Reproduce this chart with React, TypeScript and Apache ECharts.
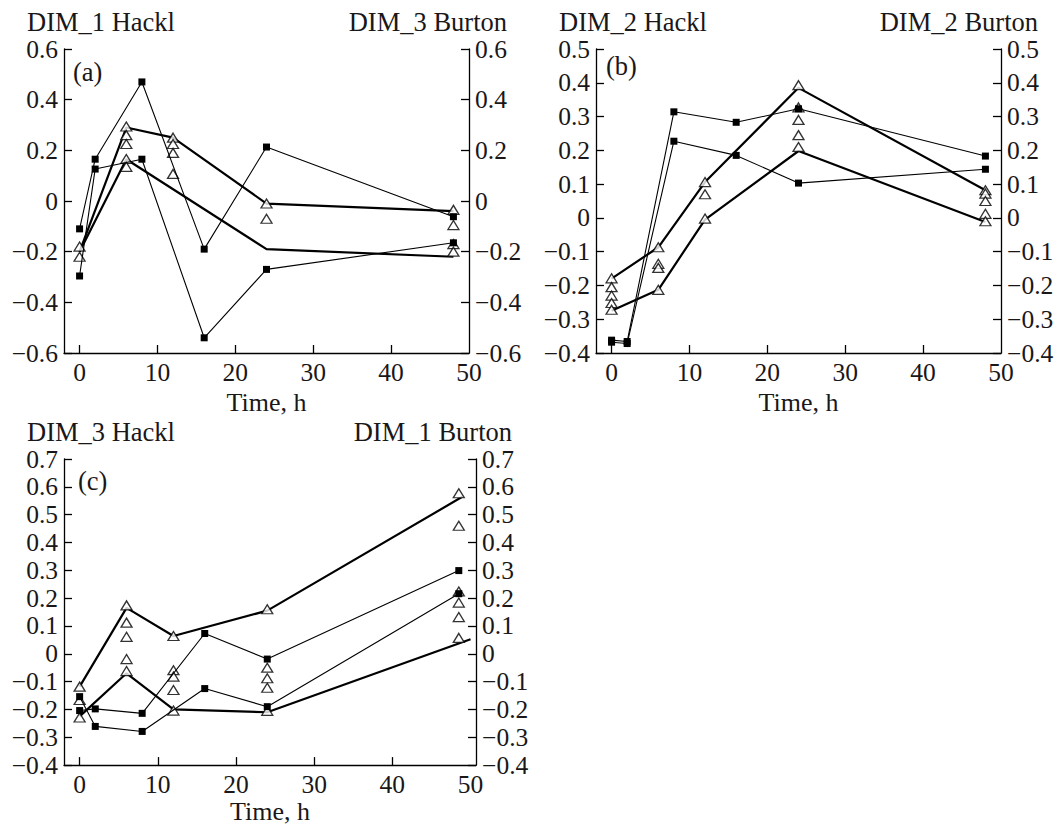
import React, { useEffect, useRef } from "react";
import * as echarts from "echarts";

// ---------- data ----------
// Panel (a): DIM_1 Hackl (squares) / DIM_3 Burton (triangles)
const aHacklA = [[0, -0.11], [2, 0.165], [8, 0.47], [16, -0.19], [24, 0.213], [48, -0.062]];
const aHacklB = [[0, -0.296], [2, 0.126], [8, 0.165], [16, -0.54], [24, -0.27], [48, -0.165]];
const aBurtonMeanA = [[0, -0.2], [6, 0.29], [12, 0.25], [24, -0.01], [48, -0.04]];
const aBurtonMeanB = [[0, -0.2], [6, 0.165], [24, -0.19], [48, -0.22]];
const aBurtonPts = [
  [0, -0.18], [0, -0.22],
  [6, 0.294], [6, 0.26], [6, 0.225], [6, 0.166], [6, 0.135],
  [12, 0.25], [12, 0.225], [12, 0.19], [12, 0.107],
  [24, -0.01], [24, -0.07],
  [48, -0.035], [48, -0.095], [48, -0.17], [48, -0.2],
];

// Panel (b): DIM_2 Hackl / DIM_2 Burton
const bHacklA = [[0, -0.362], [2, -0.366], [8, 0.314], [16, 0.283], [24, 0.323], [48, 0.183]];
const bHacklB = [[0, -0.368], [2, -0.372], [8, 0.227], [16, 0.185], [24, 0.103], [48, 0.144]];
const bBurtonMeanA = [[0, -0.18], [6, -0.087], [12, 0.106], [24, 0.385], [48, 0.082]];
const bBurtonMeanB = [[0, -0.275], [6, -0.213], [12, -0.005], [24, 0.198], [48, -0.012]];
const bBurtonPts = [
  [0, -0.179], [0, -0.205], [0, -0.23], [0, -0.252], [0, -0.272],
  [6, -0.087], [6, -0.136], [6, -0.148], [6, -0.213],
  [12, 0.106], [12, 0.07], [12, -0.002],
  [24, 0.393], [24, 0.327], [24, 0.29], [24, 0.245], [24, 0.21],
  [48, 0.082], [48, 0.072], [48, 0.05], [48, 0.012], [48, -0.01],
];

// Panel (c): DIM_3 Hackl / DIM_1 Burton
const cHacklA = [[0, -0.204], [2, -0.198], [8, -0.214], [16, 0.073], [24, -0.019], [48.5, 0.299]];
const cHacklB = [[0, -0.154], [2, -0.261], [8, -0.279], [16, -0.125], [24, -0.19], [48.5, 0.216]];
const cBurtonMeanA = [[0, -0.118], [6, 0.165], [12, 0.064], [24, 0.155], [49, 0.565]];
const cBurtonMeanB = [[0, -0.225], [6, -0.07], [12, -0.2], [24, -0.21], [50, 0.052]];
const cBurtonPts = [
  [0, -0.118], [0, -0.166], [0, -0.229],
  [6, 0.174], [6, 0.112], [6, 0.061], [6, -0.019], [6, -0.062],
  [12, 0.064], [12, -0.059], [12, -0.082], [12, -0.13], [12, -0.204],
  [24, 0.16], [24, -0.05], [24, -0.088], [24, -0.122], [24, -0.205],
  [48.5, 0.577], [48.5, 0.46], [48.5, 0.224], [48.5, 0.184], [48.5, 0.132], [48.5, 0.057],
];

const xTickValues = [0, 10, 20, 30, 40];
const xLabelValues = [0, 10, 20, 30, 40, 50];
const xName = "Time, h";
const titles = [
  { left: "DIM_1 Hackl", right: "DIM_3 Burton", tag: "(a)" },
  { left: "DIM_2 Hackl", right: "DIM_2 Burton", tag: "(b)" },
  { left: "DIM_3 Hackl", right: "DIM_1 Burton", tag: "(c)" },
];

// ---------- styling ----------
const FONT = "Liberation Serif";
const FS = 25.5;
const FS_TITLE = 26.5;
const TXT = "#1a1718";

const fmt = (v: number) => {
  const r = Math.round(v * 10) / 10;
  if (Math.abs(r) < 1e-9) return "0";
  return (r < 0 ? "\u2212" : "") + Math.abs(r).toFixed(1);
};

const axisLine = { show: true, onZero: false, lineStyle: { color: "#000", width: 1.3 } };
const tickStyle = { color: "#000", width: 1.3 };
const textStyle = { fontFamily: FONT, fontSize: FS, color: TXT };

function xAx(gridIndex: number, max: number, nameGap: number) {
  return {
    type: "value",
    gridIndex,
    min: -2,
    max,
    axisLine,
    axisTick: { show: true, inside: true, length: 8, customValues: xTickValues, lineStyle: tickStyle },
    axisLabel: { ...textStyle, margin: 6, customValues: xLabelValues },
    splitLine: { show: false },
    name: xName,
    nameLocation: "middle",
    nameGap,
    nameTextStyle: { ...textStyle, fontSize: 26 },
  };
}

function yAx(gridIndex: number, position: string, min: number, max: number, interval: number) {
  return {
    type: "value",
    gridIndex,
    position,
    min,
    max,
    interval,
    axisLine,
    axisTick: { show: true, inside: true, length: 8, lineStyle: tickStyle },
    axisLabel: { ...textStyle, margin: 6, formatter: fmt },
    splitLine: { show: false },
  };
}

function hacklLine(data: number[][], xi: number, yi: number) {
  return {
    type: "line",
    data,
    xAxisIndex: xi,
    yAxisIndex: yi,
    symbol: "rect",
    symbolSize: 7,
    showSymbol: true,
    lineStyle: { color: "#000", width: 1.1 },
    itemStyle: { color: "#000" },
    z: 5,
  };
}
function meanLine(data: number[][], xi: number, yi: number) {
  return {
    type: "line",
    data,
    xAxisIndex: xi,
    yAxisIndex: yi,
    symbol: "none",
    lineStyle: { color: "#000", width: 2.2 },
    z: 2,
  };
}
function triPts(data: number[][], xi: number, yi: number) {
  return {
    type: "scatter",
    data,
    xAxisIndex: xi,
    yAxisIndex: yi,
    symbol: "triangle",
    symbolSize: [11, 9],
    itemStyle: { color: "#fff", borderColor: "#000", borderWidth: 1.3 },
    z: 3,
  };
}

function txt(text: string, x: number, y: number, align: string) {
  return {
    type: "text",
    x,
    y,
    style: {
      text,
      x: 0,
      y: 0,
      font: `${FS_TITLE}px "${FONT}"`,
      fill: TXT,
      align,
      textAlign: align,
      verticalAlign: "middle",
      textVerticalAlign: "middle",
    },
  };
}

export default function App() {
  const ref = useRef<HTMLDivElement>(null);
  useEffect(() => {
    if (!ref.current) return;
    const chart = echarts.init(ref.current, null, { renderer: "svg" });
    chart.setOption({
      animation: false,
      backgroundColor: "#fff",
      grid: [
        { left: 64, top: 49, width: 405, height: 304 },
        { left: 596, top: 49, width: 405, height: 304 },
        { left: 64, top: 459, width: 412, height: 308 },
      ],
      xAxis: [xAx(0, 50, 36), xAx(1, 50, 36), xAx(2, 50.7, 30)],
      yAxis: [
        yAx(0, "left", -0.6, 0.6, 0.2),
        yAx(0, "right", -0.6, 0.6, 0.2),
        yAx(1, "left", -0.4, 0.5, 0.1),
        yAx(1, "right", -0.4, 0.5, 0.1),
        yAx(2, "left", -0.4, 0.7, 0.1),
        yAx(2, "right", -0.4, 0.7, 0.1),
      ],
      series: [
        meanLine(aBurtonMeanA, 0, 1),
        meanLine(aBurtonMeanB, 0, 1),
        triPts(aBurtonPts, 0, 1),
        hacklLine(aHacklA, 0, 0),
        hacklLine(aHacklB, 0, 0),
        meanLine(bBurtonMeanA, 1, 3),
        meanLine(bBurtonMeanB, 1, 3),
        triPts(bBurtonPts, 1, 3),
        hacklLine(bHacklA, 1, 2),
        hacklLine(bHacklB, 1, 2),
        meanLine(cBurtonMeanA, 2, 5),
        meanLine(cBurtonMeanB, 2, 5),
        triPts(cBurtonPts, 2, 5),
        hacklLine(cHacklA, 2, 4),
        hacklLine(cHacklB, 2, 4),
      ],
      graphic: [
        txt(titles[0].left, 27, 21.6, "left"),
        txt(titles[0].right, 507, 21.6, "right"),
        txt(titles[0].tag, 73, 71.6, "left"),
        txt(titles[1].left, 559, 21.6, "left"),
        txt(titles[1].right, 1038, 21.6, "right"),
        txt(titles[1].tag, 606, 65.6, "left"),
        txt(titles[2].left, 27, 431.5, "left"),
        txt(titles[2].right, 512, 431.5, "right"),
        txt(titles[2].tag, 78, 481, "left"),
      ],
    });
    return () => chart.dispose();
  }, []);
  return (
    <div
      ref={ref}
      style={{ position: "absolute", left: 0, top: 0, width: 1058, height: 825, background: "#fff" }}
    />
  );
}
